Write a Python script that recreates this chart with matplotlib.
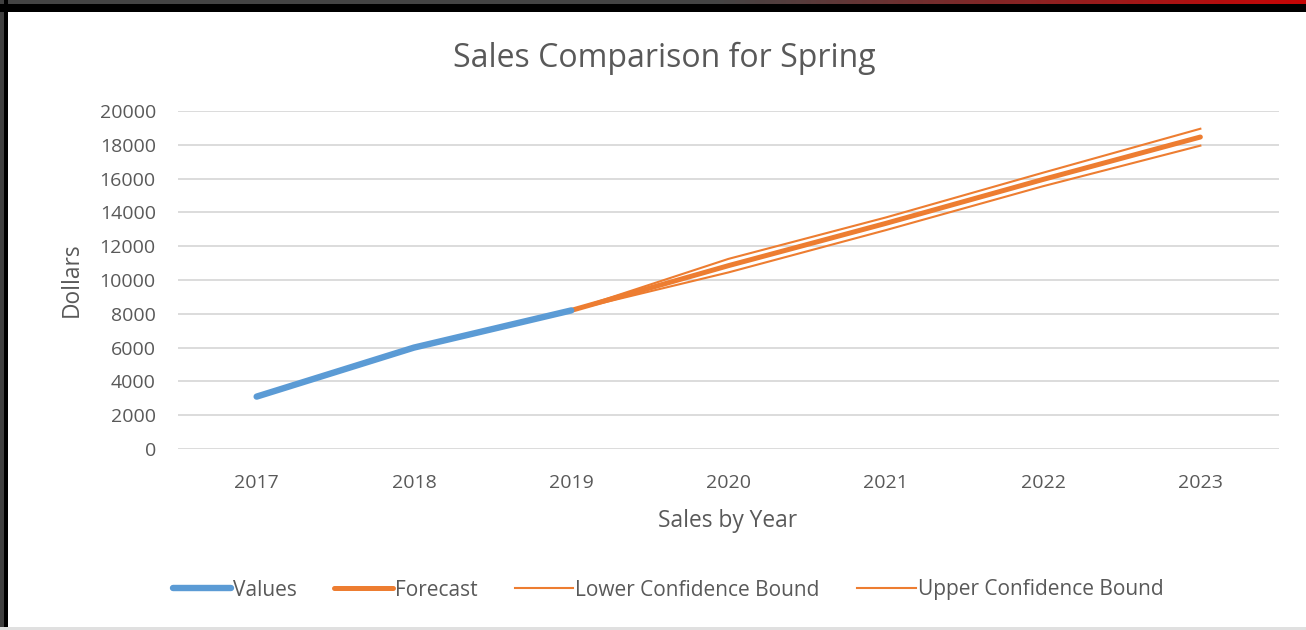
import numpy as np
import matplotlib.pyplot as plt
from matplotlib.patches import Rectangle
from matplotlib.lines import Line2D

plt.rcParams['font.family'] = ['Open Sans', 'DejaVu Sans']

# datos
years = ['2017', '2018', '2019', '2020', '2021', '2022', '2023']
values = [3100, 6000, 8200]
forecast = [8200, 10850, 13350, 15950, 18460]
lower_bound = [8200, 10450, 12950, 15550, 17950]
upper_bound = [8200, 11250, 13700, 16350, 18950]
y_ticks = [0, 2000, 4000, 6000, 8000, 10000, 12000, 14000, 16000, 18000, 20000]

blue = '#5B9BD5'
orange = '#ED7D31'
grey_txt = '#595959'

W, H = 1306, 630
fig = plt.figure(figsize=(W / 100, H / 100), dpi=100)
fig.patch.set_facecolor('white')

ax = fig.add_axes([178 / W, 1 - 449 / H, 1101 / W, 338 / H])

x_values = np.arange(len(values))
x_fc = np.arange(len(values) - 1, len(years))

ax.plot(x_fc, lower_bound, color=orange, lw=1.5, label='Lower Confidence Bound')
ax.plot(x_fc, upper_bound, color=orange, lw=1.5, label='Upper Confidence Bound')
ax.plot(x_fc, forecast, color=orange, lw=3.6, solid_capstyle='round', label='Forecast')
ax.plot(x_values, values, color=blue, lw=4.6, solid_capstyle='round', label='Values')

ax.set_xlim(-0.5, len(years) - 0.5)
ax.set_ylim(0, 20000)
ax.set_xticks(np.arange(len(years)))
ax.set_xticklabels(years)
ax.set_yticks(y_ticks)
ax.set_yticklabels([str(v) for v in y_ticks])
ax.yaxis.grid(True, color='#D9D9D9', lw=1.3)
ax.set_axisbelow(True)
for s in ax.spines.values():
    s.set_visible(False)
ax.tick_params(axis='both', length=0, labelsize=14, colors=grey_txt)
ax.tick_params(axis='y', pad=16)
ax.tick_params(axis='x', pad=18)
for lbl in ax.get_xticklabels() + ax.get_yticklabels():
    lbl.set_color(grey_txt)

fig.text(664 / W, 1 - 58 / H, 'Sales Comparison for Spring', ha='center', va='center',
         fontsize=23, color=grey_txt)
fig.text(728 / W, 1 - 521 / H, 'Sales by Year', ha='center', va='center',
         fontsize=16.4, color=grey_txt)
fig.text(72 / W, 1 - 280 / H, 'Dollars', ha='center', va='center', rotation=90,
         fontsize=16.4, color=grey_txt)

handles = [
    Line2D([], [], color=blue, lw=4.6, solid_capstyle='round'),
    Line2D([], [], color=orange, lw=3.6, solid_capstyle='round'),
    Line2D([], [], color=orange, lw=1.5),
    Line2D([], [], color=orange, lw=1.5),
]
labels = ['Values', 'Forecast', 'Lower Confidence Bound', 'Upper Confidence Bound']
leg = fig.legend(handles, labels, loc='center', bbox_to_anchor=(668 / W, 1 - 590 / H),
                 ncol=4, frameon=False, fontsize=15, handlelength=2.8,
                 handletextpad=0.1, columnspacing=1.8)
for t in leg.get_texts():
    t.set_color(grey_txt)

# marco de la captura
fig.add_artist(Rectangle((0, 0), 4 / W, 1, transform=fig.transFigure, color='#404040', lw=0))
fig.add_artist(Rectangle((4 / W, 0), 4 / W, 1, transform=fig.transFigure, color='black', lw=0))
fig.add_artist(Rectangle((0, 1 - 12 / H), 1, 8 / H, transform=fig.transFigure, color='black', lw=0))
fig.add_artist(Rectangle((0, 0), 1, 3 / H, transform=fig.transFigure, color='#E0E0E0', lw=0))
top = fig.add_axes([0, 1 - 4 / H, 1, 4 / H])
grad = np.zeros((1, 256, 3))
t = np.linspace(0, 1, 256)
mix = np.clip((t - 0.55) / 0.45, 0, 1)
grad[0, :, 0] = 0.27 * (1 - mix) + 0.78 * mix
grad[0, :, 1] = 0.27 * (1 - mix) + 0.02 * mix
grad[0, :, 2] = 0.27 * (1 - mix) + 0.02 * mix
top.imshow(grad, aspect='auto')
top.axis('off')

fig.savefig('out.png', dpi=100)
